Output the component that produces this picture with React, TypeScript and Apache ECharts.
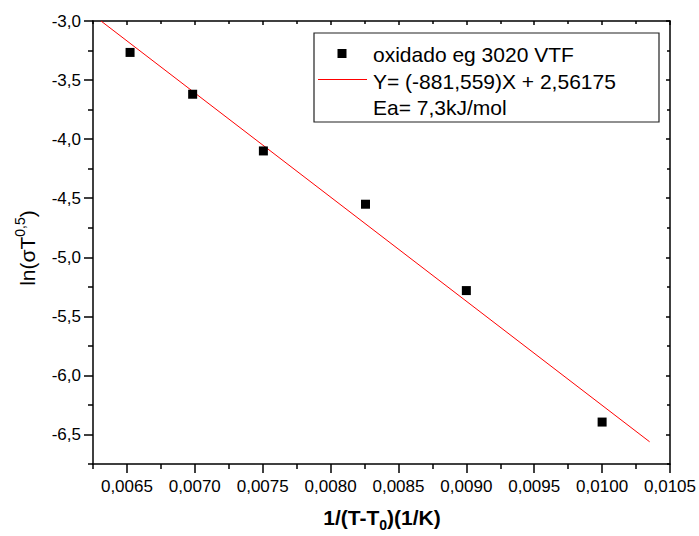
import React, { useEffect, useRef } from "react";
import * as echarts from "echarts";

// Data
const xValues = [0.006523, 0.006984, 0.007505, 0.008257, 0.009, 0.01];
const yValues = [-3.266, -3.62, -4.1, -4.551, -5.282, -6.395];
const fitX = [0.006309, 0.01035];
const fitY = [-3.0, -6.562];

const xMajorTicks = [0.0065, 0.007, 0.0075, 0.008, 0.0085, 0.009, 0.0095, 0.01, 0.0105];
const xMinorTicks = [0.00625, 0.00675, 0.00725, 0.00775, 0.00825, 0.00875, 0.00925, 0.00975, 0.01025];
const yMajorTicks = [-6.5, -6.0, -5.5, -5.0, -4.5, -4.0, -3.5, -3.0];
const yMinorTicks = [-6.75, -6.25, -5.75, -5.25, -4.75, -4.25, -3.75, -3.25];

const legendLabels = ["oxidado eg 3020 VTF", "Y= (-881,559)X + 2,56175", "Ea= 7,3kJ/mol"];

const X_MIN = 0.00625;
const X_MAX = 0.0105;
const Y_MIN = -6.75;
const Y_MAX = -3.0;

const FONT = "'Liberation Sans', Arial, Helvetica, sans-serif";

export default function App() {
  const ref = useRef<HTMLDivElement>(null);

  useEffect(() => {
    if (!ref.current) return;
    const chart = echarts.init(ref.current, undefined, { renderer: "svg" });

    const lineStyle = { color: "#000", width: 1.5 };

    const xAxisBase = (
      position: "top" | "bottom",
      ticks: number[],
      len: number,
      inside: boolean,
      showLine: boolean,
      showLabel: boolean
    ) => ({
      type: "value" as const,
      position,
      min: X_MIN,
      max: X_MAX,
      axisLine: { show: showLine, onZero: false, lineStyle },
      axisTick: {
        show: true,
        inside,
        length: len,
        customValues: ticks,
        lineStyle: { color: "#000", width: 1.5 },
      },
      axisLabel: {
        show: showLabel,
        customValues: ticks,
        margin: 14,
        fontSize: 17,
        fontFamily: FONT,
        color: "#000",
        formatter: (v: number) => v.toFixed(4).replace(".", ","),
      },
      splitLine: { show: false },
    });

    const yAxisBase = (
      position: "left" | "right",
      ticks: number[],
      len: number,
      inside: boolean,
      showLine: boolean,
      showLabel: boolean
    ) => ({
      type: "value" as const,
      position,
      min: Y_MIN,
      max: Y_MAX,
      axisLine: { show: showLine, onZero: false, lineStyle },
      axisTick: {
        show: true,
        inside,
        length: len,
        customValues: ticks,
        lineStyle: { color: "#000", width: 1.5 },
      },
      axisLabel: {
        show: showLabel,
        customValues: ticks,
        margin: 12,
        fontSize: 17,
        fontFamily: FONT,
        color: "#000",
        formatter: (v: number) => v.toFixed(1).replace(".", ","),
      },
      splitLine: { show: false },
    });

    const scatterData = xValues.map((x, i) => [x, yValues[i]]);
    const fitData = fitX.map((x, i) => [x, fitY[i]]);

    const lx = 314;
    const ly = 33;
    const rowY = [54, 81, 107];

    chart.setOption({
      animation: false,
      backgroundColor: "#fff",
      grid: { left: 93, right: 29, top: 21, bottom: 72, containLabel: false },
      xAxis: [
        xAxisBase("bottom", xMajorTicks, 9, false, true, true),
        xAxisBase("bottom", xMinorTicks, 5, false, false, false),
        xAxisBase("top", xMajorTicks, 4, true, true, false),
        xAxisBase("top", xMinorTicks, 3, true, false, false),
      ],
      yAxis: [
        yAxisBase("left", yMajorTicks, 9, false, true, true),
        yAxisBase("left", yMinorTicks, 5, false, false, false),
        yAxisBase("right", yMajorTicks, 4, true, true, false),
        yAxisBase("right", yMinorTicks, 3, true, false, false),
      ],
      series: [
        {
          name: legendLabels[0],
          type: "scatter",
          xAxisIndex: 0,
          yAxisIndex: 0,
          symbol: "rect",
          symbolSize: 9,
          itemStyle: { color: "#000", opacity: 1 },
          data: scatterData,
          z: 3,
        },
        {
          name: legendLabels[1],
          type: "line",
          xAxisIndex: 0,
          yAxisIndex: 0,
          showSymbol: false,
          symbol: "none",
          lineStyle: { color: "#ff0000", width: 1 },
          data: fitData,
          z: 2,
        },
      ],
      graphic: [
        {
          type: "rect",
          shape: { x: lx, y: ly, width: 345, height: 89 },
          style: { fill: "#fff", stroke: "#222", lineWidth: 1.2 },
          z: 10,
        },
        {
          type: "rect",
          shape: { x: 337.5, y: 49, width: 9, height: 9 },
          style: { fill: "#000" },
          z: 11,
        },
        {
          type: "line",
          shape: { x1: 318, y1: 79.5, x2: 367, y2: 79.5 },
          style: { stroke: "#ff0000", lineWidth: 1 },
          z: 11,
        },
        ...legendLabels.map((t, i) => ({
          type: "text",
          x: 373,
          y: rowY[i],
          z: 11,
          style: {
            text: t,
            fontSize: 21,
            fontFamily: FONT,
            fill: "#000",
            align: "left",
            verticalAlign: "middle",
          },
        })),
        {
          type: "text",
          x: 382,
          y: 517,
          z: 11,
          style: {
            text: "{m|1/(T-T}{s|0}{m|)(1/K)}",
            align: "center",
            verticalAlign: "middle",
            fill: "#000",
            rich: {
              m: { fontSize: 21, fontWeight: "bold", fontFamily: FONT, lineHeight: 30, verticalAlign: "middle" },
              s: { fontSize: 14, fontWeight: "bold", fontFamily: FONT, lineHeight: 30, verticalAlign: "bottom" },
            },
          },
        },
        {
          type: "text",
          x: 27,
          y: 248,
          rotation: Math.PI / 2,
          z: 11,
          style: {
            text: "{m|ln(\u03c3T}{s|0,5}{m|)}",
            align: "center",
            verticalAlign: "middle",
            fill: "#000",
            rich: {
              m: { fontSize: 21, fontFamily: FONT, lineHeight: 28, verticalAlign: "middle" },
              s: { fontSize: 14, fontFamily: FONT, lineHeight: 28, verticalAlign: "top" },
            },
          },
        },
      ],
    });

    return () => chart.dispose();
  }, []);

  return (
    <div
      ref={ref}
      style={{ position: "fixed", left: 0, top: 0, width: 699, height: 536, background: "#fff" }}
    />
  );
}
